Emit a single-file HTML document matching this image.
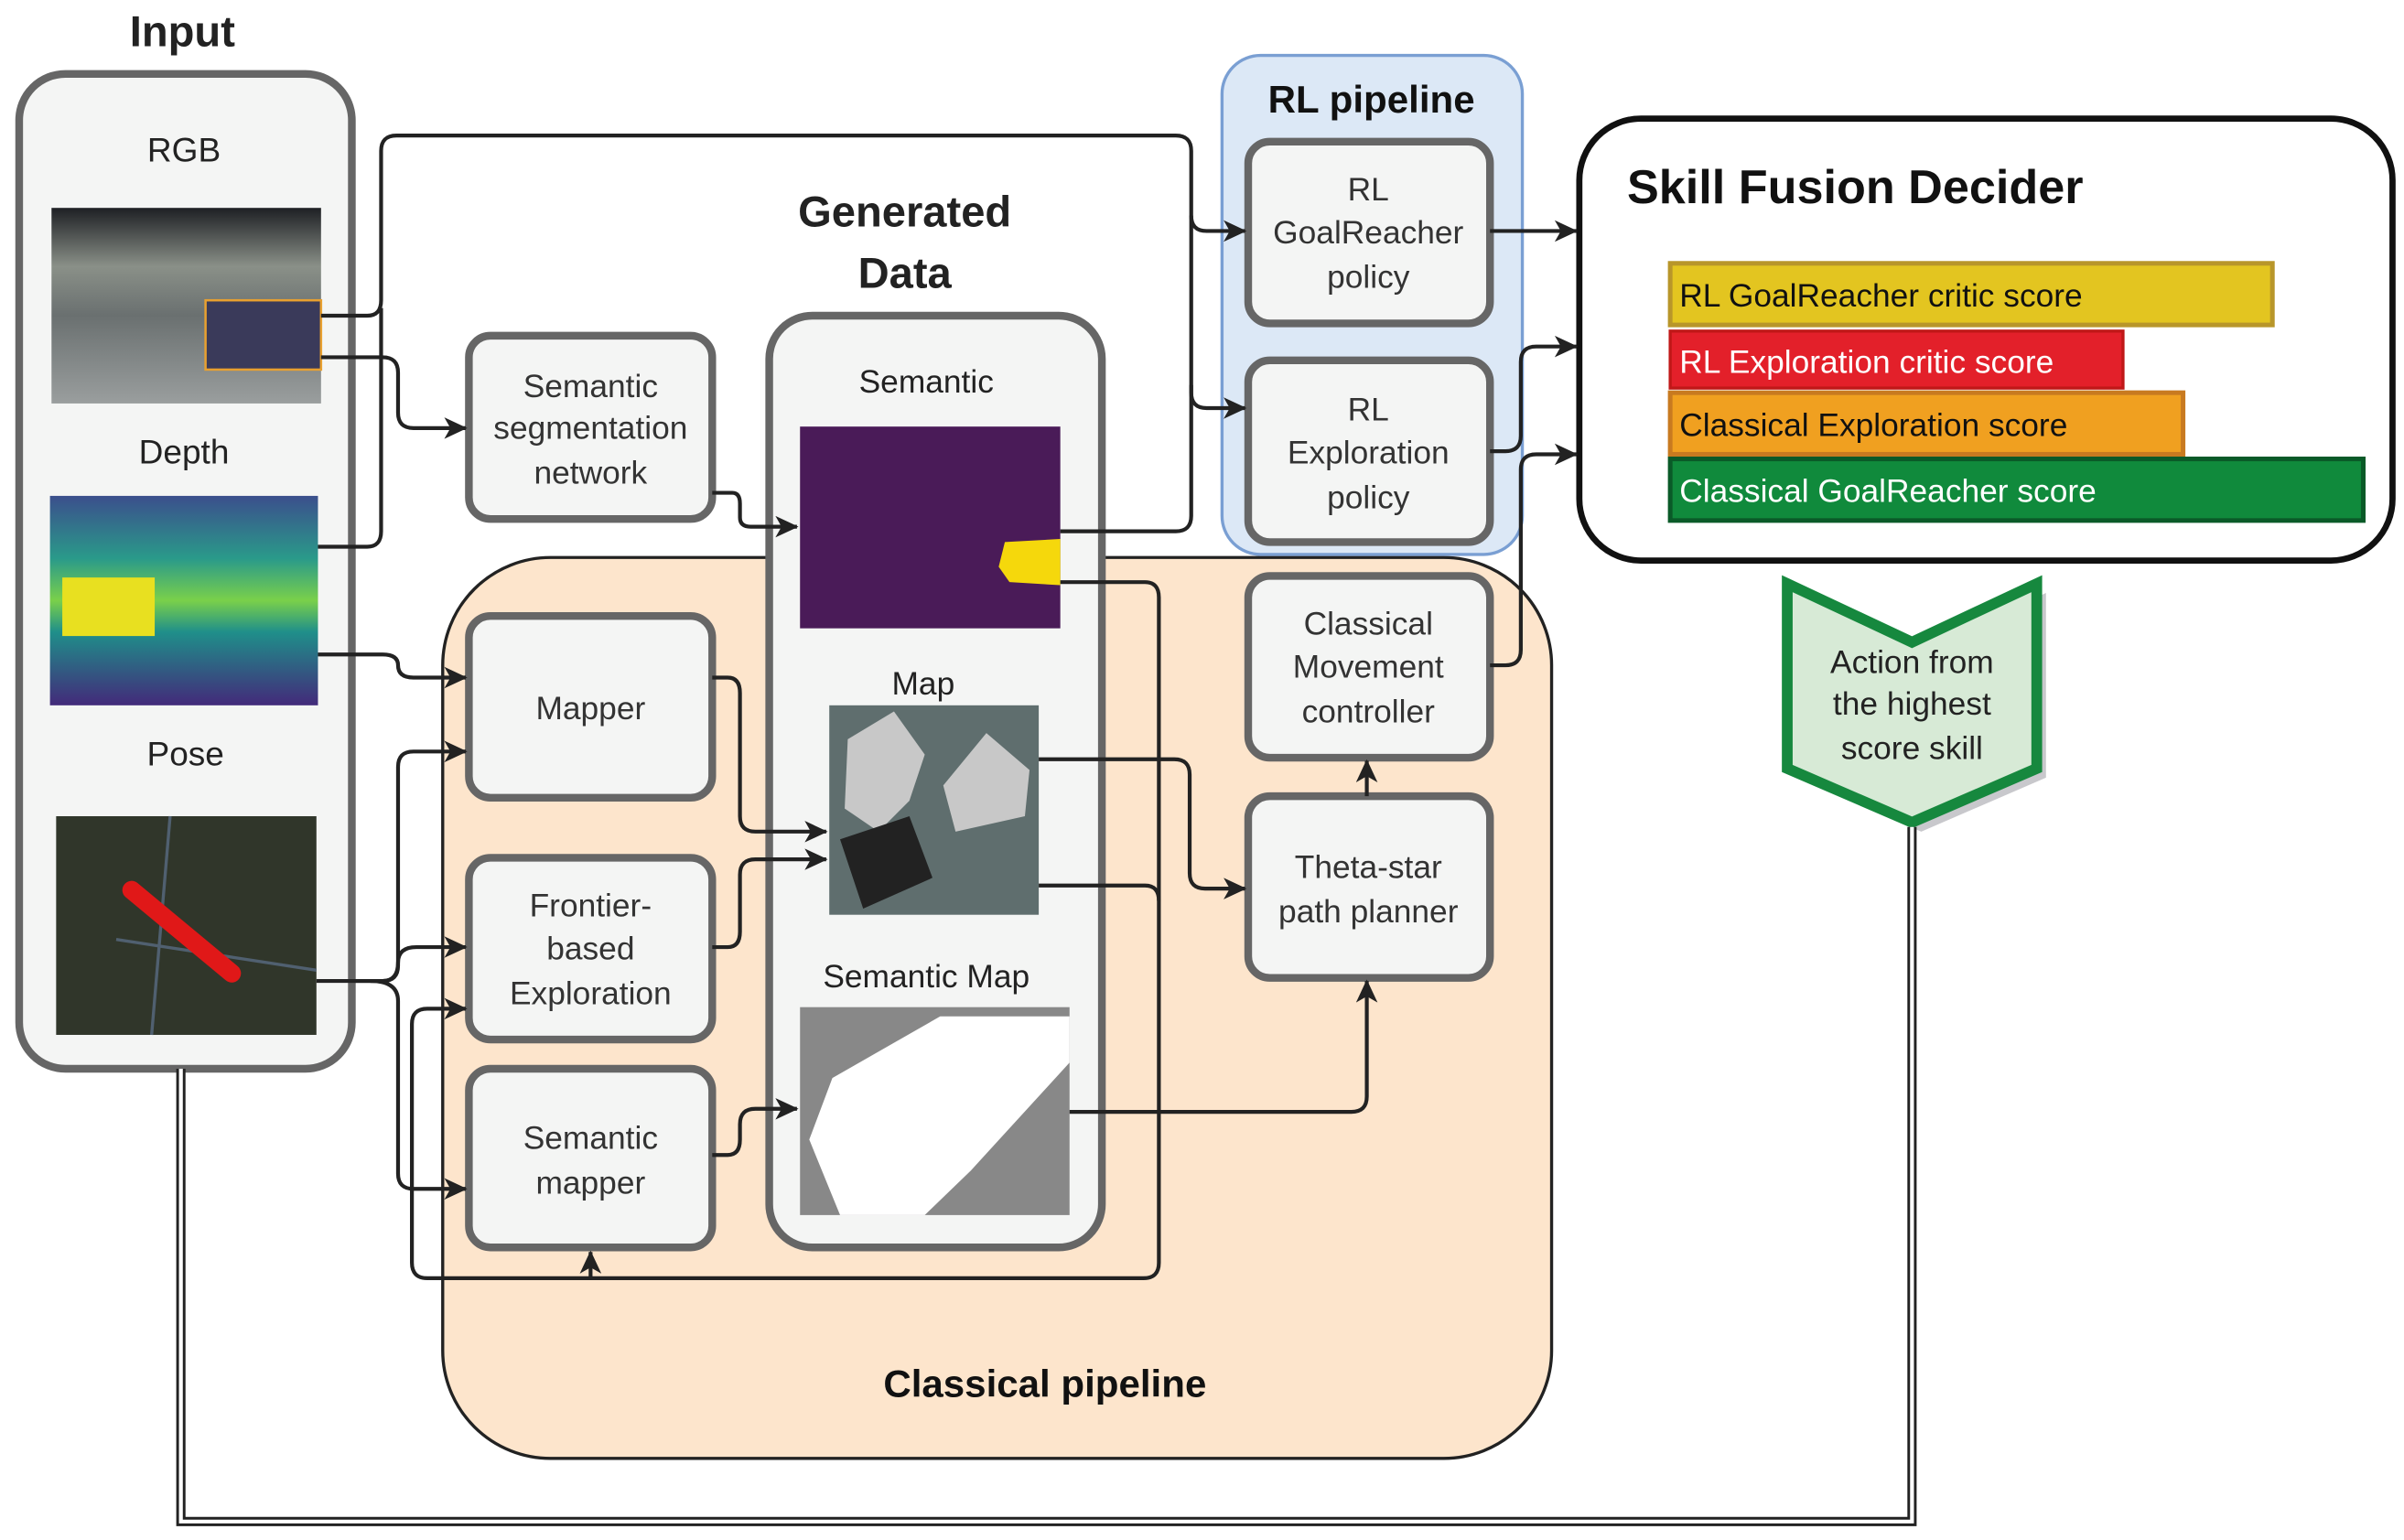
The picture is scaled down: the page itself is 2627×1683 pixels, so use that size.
<!DOCTYPE html>
<html><head><meta charset="utf-8"><style>
html,body{margin:0;padding:0;background:#fff}
svg{display:block}
text{font-family:"Liberation Sans",sans-serif}
</style></head><body>
<svg width="2627" height="1683" viewBox="0 0 1560 1000" xmlns="http://www.w3.org/2000/svg">
<defs>
<marker id="a" markerWidth="16" markerHeight="14" refX="14" refY="7" orient="auto" markerUnits="userSpaceOnUse">
<path d="M0,0 L15,7 L0,14 L4,7 Z" fill="#222"/></marker>
<linearGradient id="vir" x1="0" y1="0" x2="0" y2="1">
<stop offset="0" stop-color="#3b4f8c"/><stop offset="0.3" stop-color="#2a9a8a"/><stop offset="0.5" stop-color="#7ad04a"/><stop offset="0.65" stop-color="#1f8f8a"/><stop offset="1" stop-color="#432a7a"/></linearGradient>
<linearGradient id="rgb" x1="0" y1="0" x2="0" y2="1">
<stop offset="0" stop-color="#1e2024"/><stop offset="0.3" stop-color="#8a9088"/><stop offset="0.55" stop-color="#6a7070"/><stop offset="1" stop-color="#9a9e9e"/></linearGradient>
</defs>

<rect x="287" y="362" width="720" height="585" rx="70" fill="#fde5cc" stroke="#222" stroke-width="2"/>
<text x="678" y="907" font-size="25" font-weight="bold" text-anchor="middle" fill="#111">Classical pipeline</text>
<rect x="793" y="36" width="195" height="324" rx="25" fill="#dce8f6" stroke="#7a9fd3" stroke-width="2"/>
<text x="890" y="73" font-size="25" font-weight="bold" text-anchor="middle" fill="#111">RL pipeline</text>

<text x="118" y="30" font-size="28" font-weight="bold" text-anchor="middle" fill="#222">Input</text>
<rect x="12" y="48" width="216" height="646" rx="30" fill="#f4f5f4" stroke="#666" stroke-width="5"/>
<text x="119" y="105" font-size="22" text-anchor="middle" fill="#222">RGB</text>
<rect x="33" y="135" width="175" height="127" fill="url(#rgb)"/>
<rect x="133" y="195" width="75" height="45" fill="#3a3a5a" stroke="#e8a030" stroke-width="1.5"/>
<text x="119" y="301" font-size="22" text-anchor="middle" fill="#222">Depth</text>
<rect x="32" y="322" width="174" height="136" fill="url(#vir)"/>
<rect x="40" y="375" width="60" height="38" fill="#e8e020"/>
<text x="120" y="497" font-size="22" text-anchor="middle" fill="#222">Pose</text>
<rect x="36" y="530" width="169" height="142" fill="#30362a"/>
<line x1="75" y1="610" x2="205" y2="630" stroke="#506070" stroke-width="2"/>
<line x1="110" y1="530" x2="98" y2="672" stroke="#506070" stroke-width="2"/>
<line x1="85" y1="578" x2="150" y2="632" stroke="#e01818" stroke-width="12" stroke-linecap="round"/>

<text x="587" y="147" font-size="28" font-weight="bold" text-anchor="middle" fill="#222">Generated</text>
<text x="587" y="187" font-size="28" font-weight="bold" text-anchor="middle" fill="#222">Data</text>
<rect x="499" y="205" width="216" height="605" rx="28" fill="#f4f5f4" stroke="#666" stroke-width="5"/>
<text x="601" y="255" font-size="21" text-anchor="middle" fill="#222">Semantic</text>
<rect x="519" y="277" width="169" height="131" fill="#4a1b58"/>
<path d="M652,352 L688,350 L688,380 L655,378 L648,368 Z" fill="#f5d80c"/>
<text x="599" y="451" font-size="21" text-anchor="middle" fill="#222">Map</text>
<rect x="538" y="458" width="136" height="136" fill="#5f6e6e"/>
<path d="M550,480 L580,462 L600,490 L590,520 L570,540 L548,525 Z" fill="#c8c8c8"/>
<path d="M612,510 L640,476 L668,500 L665,530 L620,540 Z" fill="#c8c8c8"/>
<path d="M545,545 L590,530 L605,570 L560,590 Z" fill="#222"/>
<text x="601" y="641" font-size="21" text-anchor="middle" fill="#222">Semantic Map</text>
<rect x="519" y="654" width="175" height="135" fill="#888"/>
<path d="M540,700 L610,660 L694,660 L694,690 L630,760 L600,789 L545,789 L525,740 Z" fill="#fff"/>

<g fill="#f4f5f4" stroke="#666" stroke-width="5">
<rect x="304" y="218" width="158" height="119" rx="14"/>
<rect x="304" y="400" width="158" height="118" rx="14"/>
<rect x="304" y="557" width="158" height="118" rx="14"/>
<rect x="304" y="694" width="158" height="116" rx="14"/>
<rect x="810" y="92" width="157" height="118" rx="14"/>
<rect x="810" y="234" width="157" height="118" rx="14"/>
<rect x="810" y="374" width="157" height="118" rx="14"/>
<rect x="810" y="517" width="157" height="118" rx="14"/>
</g>
<g font-size="21" text-anchor="middle" fill="#333">
<text x="383" y="258">Semantic</text><text x="383" y="285">segmentation</text><text x="383" y="314">network</text>
<text x="383" y="467">Mapper</text>
<text x="383" y="595">Frontier-</text><text x="383" y="623">based</text><text x="383" y="652">Exploration</text>
<text x="383" y="746">Semantic</text><text x="383" y="775">mapper</text>
<text x="888" y="130">RL</text><text x="888" y="158">GoalReacher</text><text x="888" y="187">policy</text>
<text x="888" y="273">RL</text><text x="888" y="301">Exploration</text><text x="888" y="330">policy</text>
<text x="888" y="412">Classical</text><text x="888" y="440">Movement</text><text x="888" y="469">controller</text>
<text x="888" y="570">Theta-star</text><text x="888" y="599">path planner</text>
</g>

<rect x="1025" y="77" width="528" height="287" rx="40" fill="#fff" stroke="#111" stroke-width="4"/>
<text x="1056" y="132" font-size="31" font-weight="bold" fill="#111">Skill Fusion Decider</text>
<rect x="1084" y="171" width="391" height="40" fill="#e3c520" stroke="#b8962a" stroke-width="3"/>
<rect x="1084" y="215" width="294" height="37" fill="#e3202a" stroke="#c01818" stroke-width="2"/>
<rect x="1084" y="255" width="333" height="40" fill="#f0a020" stroke="#c87a20" stroke-width="3"/>
<rect x="1084" y="298" width="450" height="40" fill="#108a3c" stroke="#0a5a28" stroke-width="3"/>
<g font-size="21">
<text x="1090" y="199" fill="#111">RL GoalReacher critic score</text>
<text x="1090" y="242" fill="#fff">RL Exploration critic score</text>
<text x="1090" y="283" fill="#111">Classical Exploration score</text>
<text x="1090" y="326" fill="#fff">Classical GoalReacher score</text>
</g>

<path d="M1166,385 L1247,423 L1328,385 L1328,505 L1247,540 L1166,505 Z" fill="#c8c8cc"/>
<path d="M1160,379 L1241,417 L1322,379 L1322,499 L1241,534 L1160,499 Z" fill="#d7ead6" stroke="#16883e" stroke-width="7"/>
<g font-size="21" text-anchor="middle" fill="#222">
<text x="1241" y="437">Action from</text><text x="1241" y="464">the highest</text><text x="1241" y="493">score skill</text>
</g>

<path d="M1241,537 L1241,988 L117,988 L117,694" fill="none" stroke="#222" stroke-width="6"/>
<path d="M1241,537 L1241,988 L117,988 L117,694" fill="none" stroke="#fff" stroke-width="2.5"/>

<g fill="none" stroke="#222" stroke-width="2.5">
<path d="M208,205 L238,205 Q247,205 247,195 L247,98 Q247,88 257,88 L763,88 Q773,88 773,98 L773,140 Q773,150 783,150 L808,150" marker-end="url(#a)"/>
<path d="M206,355 L238,355 Q247,355 247,345 L247,200"/>
<path d="M773,140 L773,255 Q773,265 783,265 L808,265" marker-end="url(#a)"/>
<path d="M688,345 L763,345 Q773,345 773,335 L773,250"/>
<path d="M208,232 L248,232 Q258,232 258,242 L258,268 Q258,278 268,278 L302,278" marker-end="url(#a)"/>
<path d="M462,320 L475,320 Q480,320 480,327 L480,336 Q480,342 487,342 L517,342" marker-end="url(#a)"/>
<path d="M688,378 L743,378 Q752,378 752,388 L752,820 Q752,830 742,830 L277,830 Q267,830 267,820 L267,665 Q267,655 277,655 L302,655" marker-end="url(#a)"/>
<path d="M383,830 L383,813" marker-end="url(#a)"/>
<path d="M674,575 L743,575 Q752,575 752,585"/>
<path d="M206,425 L248,425 Q258,425 258,432 Q258,440 268,440 L302,440" marker-end="url(#a)"/>
<path d="M205,637 L248,637 Q258,637 258,627 L258,498 Q258,488 268,488 L302,488" marker-end="url(#a)"/>
<path d="M230,637 L248,637 Q258,637 258,625 Q258,615 270,615 L302,615" marker-end="url(#a)"/>
<path d="M240,637 Q258,637 258,650 L258,762 Q258,772 268,772 L302,772" marker-end="url(#a)"/>
<path d="M462,440 L472,440 Q480,440 480,450 L480,530 Q480,540 490,540 L536,540" marker-end="url(#a)"/>
<path d="M462,615 L472,615 Q480,615 480,605 L480,568 Q480,558 490,558 L536,558" marker-end="url(#a)"/>
<path d="M462,750 L472,750 Q480,750 480,740 L480,730 Q480,720 490,720 L517,720" marker-end="url(#a)"/>
<path d="M674,493 L762,493 Q772,493 772,503 L772,567 Q772,577 782,577 L808,577" marker-end="url(#a)"/>
<path d="M694,722 L877,722 Q887,722 887,712 L887,637" marker-end="url(#a)"/>
<path d="M887,517 L887,494" marker-end="url(#a)"/>
<path d="M967,432 L977,432 Q987,432 987,422 L987,305 Q987,295 997,295 L1023,295" marker-end="url(#a)"/>
<path d="M967,293 L977,293 Q987,293 987,283 L987,235 Q987,225 997,225 L1023,225" marker-end="url(#a)"/>
<path d="M967,150 L1023,150" marker-end="url(#a)"/>
</g>
</svg>
</body></html>
